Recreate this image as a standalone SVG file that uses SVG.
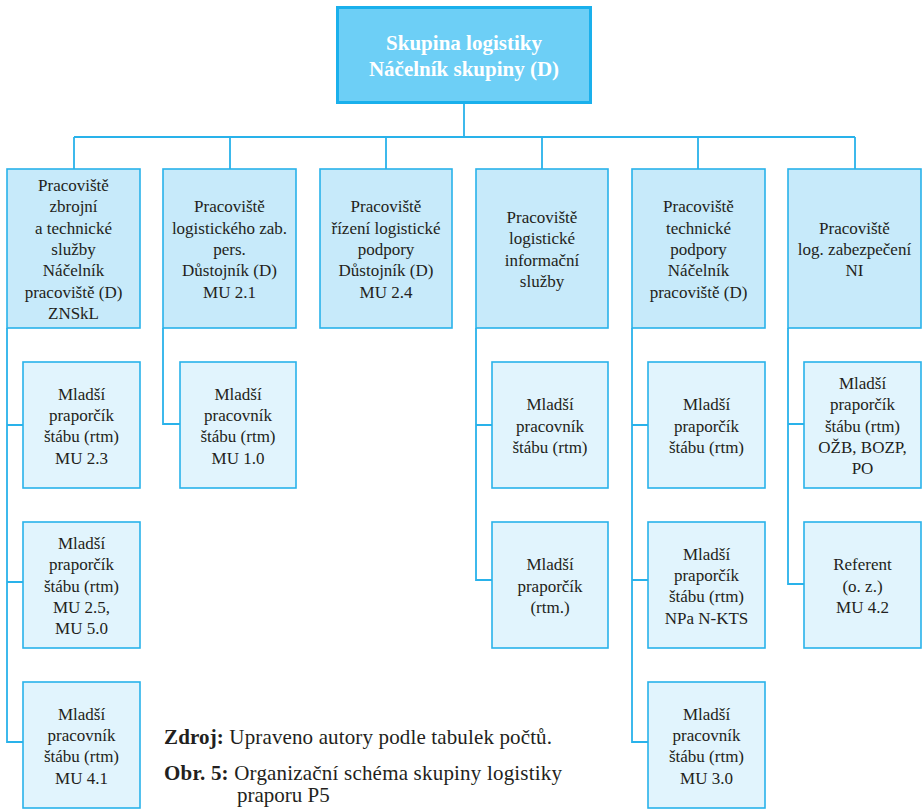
<svg xmlns="http://www.w3.org/2000/svg" width="922" height="809" viewBox="0 0 922 809" font-family="'Liberation Serif', 'DejaVu Serif', serif">
<style>
text{font-family:'Liberation Serif','DejaVu Serif',serif;fill:#231f20;text-anchor:middle;font-size:17px}
.top{fill:#6dcff6;stroke:#1ab0ec;stroke-width:3}
.top-t{fill:#ffffff;font-weight:bold;font-size:21px}
.l1{fill:#c7eafa;stroke:#29b2ea;stroke-width:1.6}
.l2{fill:#e1f4fd;stroke:#29b2ea;stroke-width:1.6}
.conn{fill:none;stroke:#29b2ea;stroke-width:1.8}
.cap{text-anchor:start;font-size:21px}
.b{font-weight:bold}
</style>
<rect width="922" height="809" fill="#ffffff"/>
<g id="connectors" class="conn">
<path d="M464 104V137M74 137H855M74 137V169M230 137V169M386 137V169M542 137V169M698 137V169M855 137V169"/>
<path d="M7 328V742H23M7 425H23M7 582H23"/>
<path d="M163 328V424H180"/>
<path d="M476 328V580H492M476 425H492"/>
<path d="M632 328V742H648M632 425H648M632 580H648"/>
<path d="M788 328V584H804M788 424H804"/>
</g>
<g id="root">
<rect class="top" x="337.5" y="7.5" width="253" height="95"/>
<text class="top-t" x="464" y="50">Skupina logistiky</text>
<text class="top-t" x="464" y="76">Náčelník skupiny (D)</text>
</g>
<g id="n1">
<rect class="l1" x="7" y="169" width="133" height="159"/>
<text x="73.5" y="191">Pracoviště</text>
<text x="73.5" y="212.3">zbrojní</text>
<text x="73.5" y="233.7">a technické</text>
<text x="73.5" y="255">služby</text>
<text x="73.5" y="276.3">Náčelník</text>
<text x="73.5" y="297.7">pracoviště (D)</text>
<text x="73.5" y="319">ZNSkL</text>
</g>
<g id="n2">
<rect class="l1" x="163" y="169" width="133" height="159"/>
<text x="229.5" y="212.3">Pracoviště</text>
<text x="229.5" y="233.7">logistického zab.</text>
<text x="229.5" y="255">pers.</text>
<text x="229.5" y="276.3">Důstojník (D)</text>
<text x="229.5" y="297.7">MU 2.1</text>
</g>
<g id="n3">
<rect class="l1" x="320" y="169" width="132" height="159"/>
<text x="386" y="212.3">Pracoviště</text>
<text x="386" y="233.7">řízení logistické</text>
<text x="386" y="255">podpory</text>
<text x="386" y="276.3">Důstojník (D)</text>
<text x="386" y="297.7">MU 2.4</text>
</g>
<g id="n4">
<rect class="l1" x="476" y="169" width="132" height="159"/>
<text x="542" y="223">Pracoviště</text>
<text x="542" y="244.3">logistické</text>
<text x="542" y="265.7">informační</text>
<text x="542" y="287">služby</text>
</g>
<g id="n5">
<rect class="l1" x="632" y="169" width="133" height="159"/>
<text x="698.5" y="212.3">Pracoviště</text>
<text x="698.5" y="233.7">technické</text>
<text x="698.5" y="255">podpory</text>
<text x="698.5" y="276.3">Náčelník</text>
<text x="698.5" y="297.7">pracoviště (D)</text>
</g>
<g id="n6">
<rect class="l1" x="788" y="169" width="133" height="159"/>
<text x="854.5" y="233.7">Pracoviště</text>
<text x="854.5" y="255">log. zabezpečení</text>
<text x="854.5" y="276.3">NI</text>
</g>
<g id="n1a">
<rect class="l2" x="23" y="362" width="117" height="126"/>
<text x="81.5" y="399.5">Mladší</text>
<text x="81.5" y="420.8">praporčík</text>
<text x="81.5" y="442.2">štábu (rtm)</text>
<text x="81.5" y="463.5">MU 2.3</text>
</g>
<g id="n1b">
<rect class="l2" x="23" y="522" width="117" height="126"/>
<text x="81.5" y="548.8">Mladší</text>
<text x="81.5" y="570.2">praporčík</text>
<text x="81.5" y="591.5">štábu (rtm)</text>
<text x="81.5" y="612.8">MU 2.5,</text>
<text x="81.5" y="634.2">MU 5.0</text>
</g>
<g id="n1c">
<rect class="l2" x="23" y="682" width="117" height="126"/>
<text x="81.5" y="719.5">Mladší</text>
<text x="81.5" y="740.8">pracovník</text>
<text x="81.5" y="762.2">štábu (rtm)</text>
<text x="81.5" y="783.5">MU 4.1</text>
</g>
<g id="n2a">
<rect class="l2" x="180" y="362" width="116" height="126"/>
<text x="238" y="399.5">Mladší</text>
<text x="238" y="420.8">pracovník</text>
<text x="238" y="442.2">štábu (rtm)</text>
<text x="238" y="463.5">MU 1.0</text>
</g>
<g id="n4a">
<rect class="l2" x="492" y="362" width="116" height="126"/>
<text x="550" y="410.2">Mladší</text>
<text x="550" y="431.5">pracovník</text>
<text x="550" y="452.8">štábu (rtm)</text>
</g>
<g id="n4b">
<rect class="l2" x="492" y="522" width="116" height="126"/>
<text x="550" y="570.2">Mladší</text>
<text x="550" y="591.5">praporčík</text>
<text x="550" y="612.8">(rtm.)</text>
</g>
<g id="n5a">
<rect class="l2" x="648" y="362" width="117" height="126"/>
<text x="706.5" y="410.2">Mladší</text>
<text x="706.5" y="431.5">praporčík</text>
<text x="706.5" y="452.8">štábu (rtm)</text>
</g>
<g id="n5b">
<rect class="l2" x="648" y="522" width="117" height="126"/>
<text x="706.5" y="559.5">Mladší</text>
<text x="706.5" y="580.8">praporčík</text>
<text x="706.5" y="602.2">štábu (rtm)</text>
<text x="706.5" y="623.5">NPa N-KTS</text>
</g>
<g id="n5c">
<rect class="l2" x="648" y="682" width="117" height="126"/>
<text x="706.5" y="719.5">Mladší</text>
<text x="706.5" y="740.8">pracovník</text>
<text x="706.5" y="762.2">štábu (rtm)</text>
<text x="706.5" y="783.5">MU 3.0</text>
</g>
<g id="n6a">
<rect class="l2" x="804" y="362" width="117" height="126"/>
<text x="862.5" y="388.8">Mladší</text>
<text x="862.5" y="410.2">praporčík</text>
<text x="862.5" y="431.5">štábu (rtm)</text>
<text x="862.5" y="452.8">OŽB, BOZP,</text>
<text x="862.5" y="474.2">PO</text>
</g>
<g id="n6b">
<rect class="l2" x="804" y="522" width="117" height="126"/>
<text x="862.5" y="570.2">Referent</text>
<text x="862.5" y="591.5">(o. z.)</text>
<text x="862.5" y="612.8">MU 4.2</text>
</g>
<g id="caption">
<text class="cap" x="164" y="744" textLength="388"><tspan class="b">Zdroj:</tspan> Upraveno autory podle tabulek počtů.</text>
<text class="cap" x="164" y="780" textLength="398"><tspan class="b">Obr. 5:</tspan> Organizační schéma skupiny logistiky</text>
<text class="cap" x="237" y="802">praporu P5</text>
</g>
</svg>
